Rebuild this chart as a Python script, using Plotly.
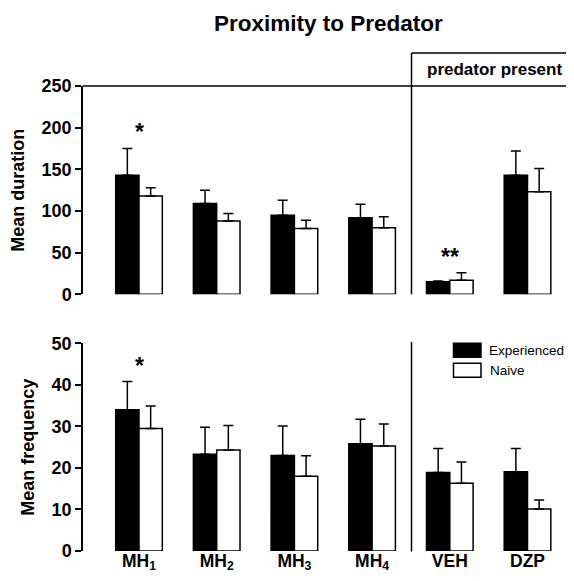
import plotly.graph_objects as go

# page offsets (body margin) and figure size so the page fits the window
OX, OY = 8, 8
FW, FH = 558, 565

categories = ["MH<sub>1</sub>", "MH<sub>2</sub>", "MH<sub>3</sub>", "MH<sub>4</sub>", "VEH", "DZP"]

duration_experienced = [143, 109, 95, 92, 15, 143]
duration_experienced_err = [32, 16, 18, 16, 1, 29]
duration_naive = [118, 88, 79, 80, 17, 123]
duration_naive_err = [10, 9, 10, 13, 9, 28]

frequency_experienced = [34, 23.3, 23, 25.8, 18.9, 19.1]
frequency_experienced_err = [6.8, 6.5, 7.1, 5.9, 5.8, 5.6]
frequency_naive = [29.5, 24.3, 18, 25.3, 16.3, 10.1]
frequency_naive_err = [5.4, 5.9, 4.9, 5.3, 5.1, 2.2]

duration_ticks = [0, 50, 100, 150, 200, 250]
frequency_ticks = [0, 10, 20, 30, 40, 50]

FONT = "Liberation Sans, Arial, Helvetica, sans-serif"


def px_x(sx):
    return (sx - OX) / FW


def px_y(sy):
    return 1 - (sy - OY) / FH


fig = go.Figure()


def add_bars(vals_e, err_e, vals_n, err_n, xa, ya):
    fig.add_trace(go.Bar(
        x=categories, y=vals_e, name="Experienced", xaxis=xa, yaxis=ya,
        marker=dict(color="black", line=dict(color="black", width=1.5)),
        error_y=dict(type="data", symmetric=False, array=err_e,
                     arrayminus=[0] * len(err_e), color="black",
                     thickness=1.5, width=5),
        showlegend=False,
    ))
    fig.add_trace(go.Bar(
        x=categories, y=vals_n, name="Naive", xaxis=xa, yaxis=ya,
        marker=dict(color="white", line=dict(color="black", width=1.5)),
        error_y=dict(type="data", symmetric=False, array=err_n,
                     arrayminus=[0] * len(err_n), color="black",
                     thickness=1.5, width=5),
        showlegend=False,
    ))


add_bars(duration_experienced, duration_experienced_err,
         duration_naive, duration_naive_err, "x", "y")
add_bars(frequency_experienced, frequency_experienced_err,
         frequency_naive, frequency_naive_err, "x2", "y2")

xdom = [px_x(83), 1.0]
cat_px = 77.7
x_left = -(139 - 83) / cat_px
x_right = x_left + (FW - (83 - OX)) / cat_px
xrange_ = [x_left, x_right]

tickfont = dict(family=FONT, size=18, color="black", weight="bold")
xtickfont = dict(family=FONT, size=17.5, color="black", weight="bold")
titlefont = dict(family=FONT, size=18, color="black", weight="bold")

fig.update_layout(
    width=FW, height=FH,
    margin=dict(l=0, r=0, t=0, b=0, autoexpand=False),
    paper_bgcolor="white", plot_bgcolor="white",
    barmode="group", bargap=0.4, bargroupgap=0,
    font=dict(family=FONT, color="black"),
    xaxis=dict(domain=xdom, range=xrange_, anchor="y", showticklabels=False,
               showline=False, showgrid=False, zeroline=False, ticks="",
               categoryorder="array", categoryarray=categories),
    yaxis=dict(domain=[px_y(294.3), px_y(86)], range=[0, 250], anchor="x",
               tickvals=duration_ticks, showline=True, linecolor="black",
               linewidth=1.5, ticks="outside", ticklen=6, tickwidth=1.5,
               tickcolor="black", showgrid=False, zeroline=False,
               tickfont=tickfont, automargin=False,
               title=dict(text="Mean duration", font=titlefont, standoff=12)),
    xaxis2=dict(domain=xdom, range=xrange_, anchor="y2", showline=False,
                showgrid=False, zeroline=False, ticks="",
                ticklabelstandoff=-3, tickfont=xtickfont, automargin=False,
                categoryorder="array", categoryarray=categories),
    yaxis2=dict(domain=[px_y(551), px_y(343.3)], range=[0, 50], anchor="x2",
                tickvals=frequency_ticks, showline=True, linecolor="black",
                linewidth=1.5, ticks="outside", ticklen=6, tickwidth=1.5,
                tickcolor="black", showgrid=False, zeroline=False,
                tickfont=tickfont, automargin=False,
                title=dict(text="Mean frequency", font=titlefont, standoff=12)),
)

line = dict(color="black", width=1.5)
shapes = [
    dict(type="line", xref="paper", yref="paper", x0=px_x(83), x1=1,
         y0=px_y(86), y1=px_y(86), line=line),
    dict(type="line", xref="paper", yref="paper", x0=px_x(411.5), x1=1,
         y0=px_y(53), y1=px_y(53), line=line),
    dict(type="line", xref="paper", yref="paper", x0=px_x(411.5), x1=px_x(411.5),
         y0=px_y(53), y1=px_y(294.3), line=line),
    dict(type="line", xref="paper", yref="paper", x0=px_x(411.5), x1=px_x(411.5),
         y0=px_y(342), y1=px_y(551.5), line=line),
    dict(type="rect", xref="paper", yref="paper", x0=px_x(453.5), x1=px_x(481),
         y0=px_y(357.3), y1=px_y(343.3), fillcolor="black", line=line),
    dict(type="rect", xref="paper", yref="paper", x0=px_x(453.5), x1=px_x(481),
         y0=px_y(377.3), y1=px_y(363.3), fillcolor="white", line=line),
]
fig.update_layout(shapes=shapes)

star_font = dict(family=FONT, size=23, color="black", weight="bold")
annotations = [
    dict(text="Proximity to Predator", xref="paper", yref="paper",
         x=px_x(328), y=px_y(23), showarrow=False, xanchor="center", yanchor="middle",
         font=dict(family=FONT, size=22.5, color="black", weight="bold")),
    dict(text="predator present", xref="paper", yref="paper",
         x=px_x(494), y=px_y(70), showarrow=False, xanchor="center", yanchor="middle",
         font=dict(family=FONT, size=17, color="black", weight="bold")),
    dict(text="*", xref="x", yref="y", x=0, y=194.5, showarrow=False,
         xanchor="center", yanchor="middle", font=star_font),
    dict(text="**", xref="x", yref="y", x=4, y=45, showarrow=False,
         xanchor="center", yanchor="middle", font=star_font),
    dict(text="*", xref="x2", yref="y2", x=0, y=44.6, showarrow=False,
         xanchor="center", yanchor="middle", font=star_font),
    dict(text="Experienced", xref="paper", yref="paper",
         x=1, y=px_y(350), showarrow=False, xanchor="right", yanchor="middle",
         font=dict(family=FONT, size=13.5, color="black")),
    dict(text="Naive", xref="paper", yref="paper",
         x=px_x(488), y=px_y(370.5), showarrow=False, xanchor="left", yanchor="middle",
         font=dict(family=FONT, size=13.5, color="black")),
]
fig.update_layout(annotations=annotations)

fig.write_html("out.html")
